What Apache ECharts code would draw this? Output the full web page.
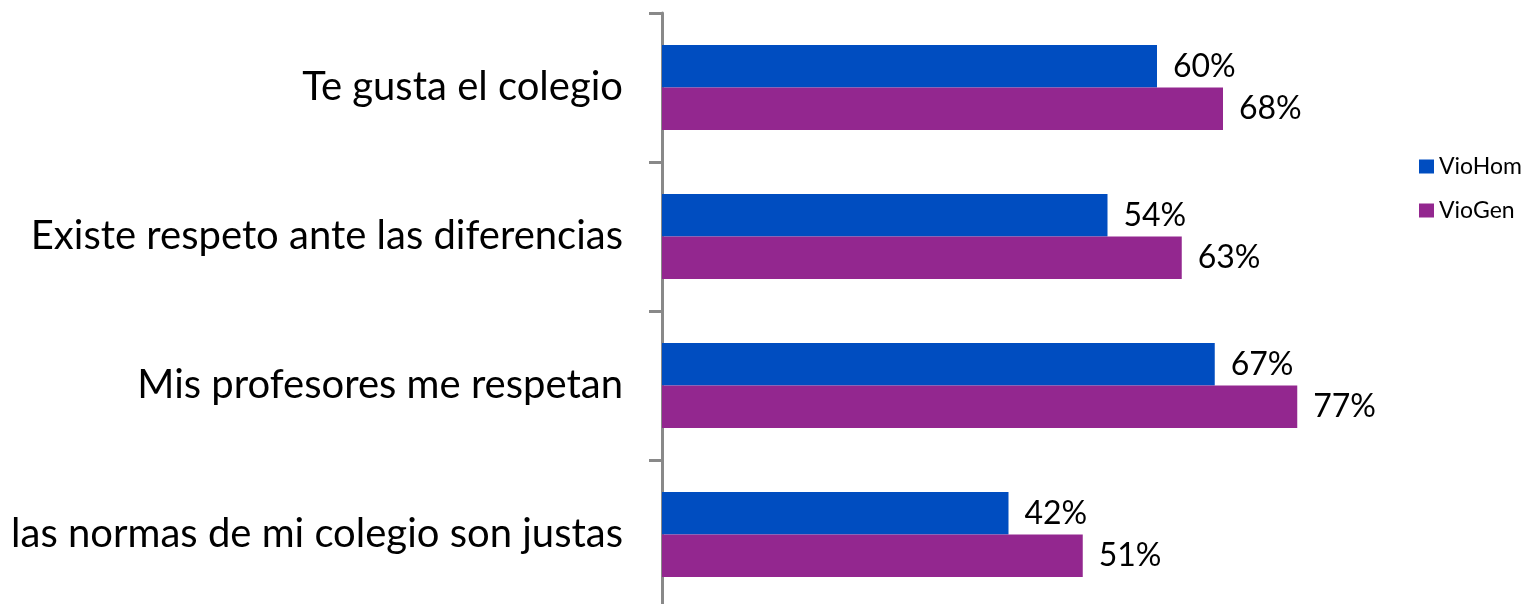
<!DOCTYPE html>
<html><head><meta charset="utf-8">
<script src="https://cdn.jsdelivr.net/npm/echarts@6/dist/echarts.min.js"></script>
<style>html,body{margin:0;padding:0;background:#fff;width:1531px;height:604px;overflow:hidden}#c{width:1531px;height:612px}</style>
</head><body><div id="c"></div>
<script>
const categories = ["Te gusta el colegio", "Existe respeto ante las diferencias", "Mis profesores me respetan", "las normas de mi colegio son justas"];
const vioHom = [60, 54, 67, 42];
const vioGen = [68, 63, 77, 51];
const seriesNames = ["VioHom", "VioGen"];
const FONT = "Lato";
const chart = echarts.init(document.getElementById('c'));
chart.setOption({
  animation: false,
  textStyle: {fontFamily: FONT},
  grid: {left: 662, right: 44, top: 13, height: 596, containLabel: false},
  legend: {
    orient: 'vertical', left: 1414, top: 150, itemWidth: 15, itemHeight: 14, itemGap: 21,
    icon: 'rect', textStyle: {fontFamily: FONT, fontSize: 23, color: '#000'},
    data: seriesNames
  },
  xAxis: {type: 'value', min: 0, max: 100, show: false},
  yAxis: {
    type: 'category', inverse: true, data: categories,
    axisLine: {show: true, lineStyle: {color: '#898989', width: 3}},
    axisTick: {show: true, length: 13, alignWithLabel: false, lineStyle: {color: '#898989', width: 3}},
    axisLabel: {margin: 39, fontSize: 40, color: '#000', fontFamily: FONT}
  },
  series: [
    {name: seriesNames[0], type: 'bar', data: vioHom, barGap: '0%', barCategoryGap: '43%',
     itemStyle: {color: '#004DC0'},
     label: {show: true, position: 'right', distance: 16, fontSize: 32, color: '#000', fontFamily: FONT, formatter: p => p.value + '%'}},
    {name: seriesNames[1], type: 'bar', data: vioGen, barGap: '0%', barCategoryGap: '43%',
     itemStyle: {color: '#93278F'},
     label: {show: true, position: 'right', distance: 16, fontSize: 32, color: '#000', fontFamily: FONT, formatter: p => p.value + '%'}}
  ]
});
</script></body></html>
